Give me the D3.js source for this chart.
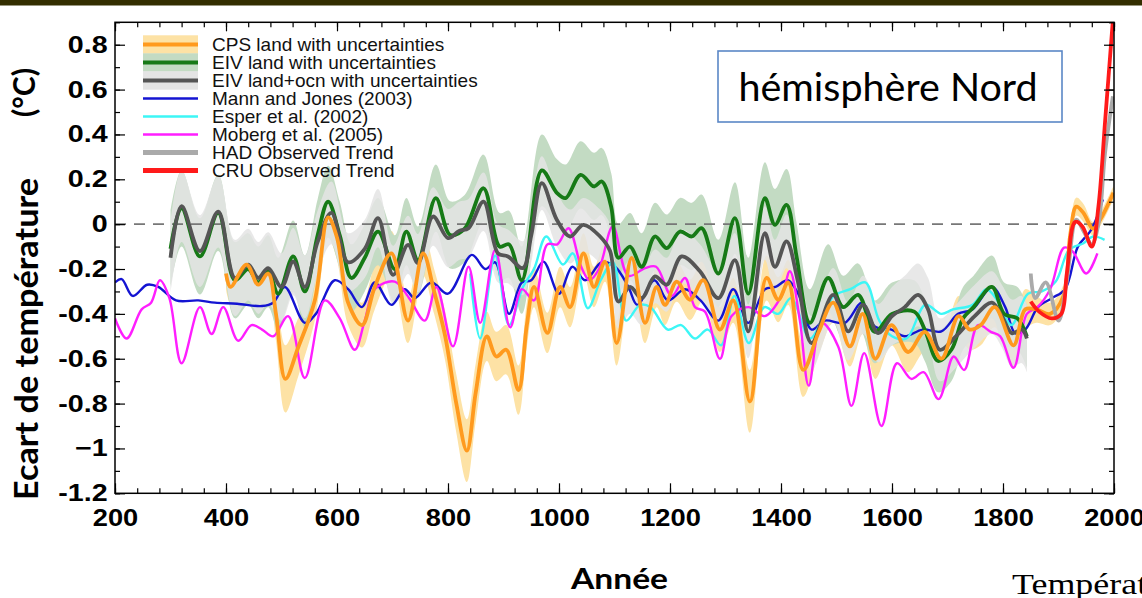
<!DOCTYPE html>
<html>
<head>
<meta charset="utf-8">
<script src="https://cdn.jsdelivr.net/npm/d3@7"></script>
<style>
  html, body { margin: 0; padding: 0; background: #fff; overflow: hidden; }
  svg { display: block; }
</style>
</head>
<body>
<div id="chart"></div>
<script>
// Reconstructions of northern hemisphere temperature anomaly (°C)
// rows: [year, value] or [year, value, uncertainty half-width]
const cpsLand = [
  [400,-0.22,0.07],[408,-0.28,0.07],[437,-0.18,0.07],[458,-0.27,0.07],[476,-0.22,0.08],
  [490,-0.40,0.12],[507,-0.69,0.15],[530,-0.55,0.13],[560,-0.34,0.09],[584,0.03,0.09],
  [600,-0.06,0.10],[620,-0.35,0.10],[645,-0.45,0.10],[668,-0.28,0.10],[698,-0.13,0.10],
  [728,-0.43,0.10],[755,-0.13,0.10],[775,-0.30,0.10],[795,-0.50,0.11],[815,-0.80,0.13],
  [834,-1.01,0.14],[850,-0.75,0.13],[870,-0.50,0.11],[887,-0.59,0.11],[905,-0.56,0.11],
  [927,-0.74,0.11],[942,-0.45,0.10],[955,-0.28,0.09],[979,-0.485,0.09],[1002,-0.28,0.09],
  [1020,-0.37,0.09],[1044,-0.13,0.09],[1063,-0.28,0.09],[1083,-0.167,0.09],[1104,-0.53,0.10],
  [1131,-0.15,0.09],[1155,-0.44,0.09],[1176,-0.28,0.09],[1191,-0.36,0.09],[1212,-0.256,0.09],
  [1236,-0.337,0.09],[1260,-0.25,0.09],[1290,-0.47,0.10],[1314,-0.34,0.10],[1344,-0.79,0.14],
  [1374,-0.24,0.10],[1395,-0.337,0.10],[1413,-0.26,0.10],[1440,-0.65,0.12],[1468,-0.48,0.10],
  [1494,-0.35,0.09],[1524,-0.545,0.09],[1547,-0.40,0.09],[1570,-0.60,0.09],[1599,-0.45,0.09],
  [1629,-0.57,0.09],[1659,-0.48,0.09],[1689,-0.60,0.09],[1720,-0.41,0.09],[1740,-0.47,0.09],
  [1760,-0.45,0.09],[1785,-0.37,0.09],[1819,-0.54,0.10],[1840,-0.38,0.09],[1860,-0.38,0.06],
  [1885,-0.40,0.05],[1909,-0.32,0.05],[1921,-0.05,0.04],[1932,0.078,0.04],[1945,0.05,0.04],
  [1962,-0.02,0.03],[1975,0.02,0.03],[1999,0.14,0.03]
];

const eivLand = [
  [300,-0.11,0.17],[320,0.07,0.17],[353,-0.144,0.17],[386,0.05,0.17],[416,-0.25,0.17],
  [440,-0.20,0.16],[458,-0.26,0.16],[476,-0.21,0.16],[494,-0.31,0.16],[521,-0.144,0.16],
  [542,-0.30,0.16],[565,-0.05,0.16],[584,0.10,0.16],[605,-0.05,0.15],[626,-0.24,0.15],
  [650,-0.15,0.15],[674,-0.033,0.15],[704,-0.20,0.15],[725,-0.033,0.15],[746,-0.16,0.15],
  [778,0.116,0.15],[804,-0.048,0.15],[830,-0.02,0.15],[864,0.16,0.15],[893,-0.10,0.15],
  [910,-0.09,0.15],[933,-0.25,0.15],[969,0.24,0.16],[996,0.14,0.15],[1012,0.116,0.15],
  [1039,0.22,0.15],[1063,0.168,0.15],[1077,0.19,0.15],[1094,0.078,0.15],[1107,-0.15,0.15],
  [1128,-0.10,0.15],[1149,-0.19,0.15],[1173,-0.055,0.15],[1194,-0.107,0.15],[1218,-0.033,0.15],
  [1239,-0.055,0.15],[1257,-0.018,0.15],[1287,-0.22,0.15],[1317,0.027,0.16],[1341,-0.31,0.16],
  [1371,0.116,0.16],[1389,-0.003,0.16],[1410,0.086,0.16],[1428,-0.144,0.15],[1452,-0.44,0.15],
  [1485,-0.24,0.15],[1512,-0.37,0.14],[1539,-0.315,0.14],[1569,-0.48,0.14],[1600,-0.40,0.14],
  [1640,-0.39,0.14],[1659,-0.47,0.14],[1683,-0.61,0.14],[1707,-0.56,0.14],[1728,-0.42,0.14],
  [1747,-0.37,0.14],[1780,-0.28,0.14],[1802,-0.40,0.14],[1826,-0.42,0.14],[1843,-0.50,0.14]
];

const eivLandOcn = [
  [300,-0.15,0.16],[320,0.08,0.16],[353,-0.12,0.16],[386,0.056,0.16],[416,-0.24,0.17],
  [440,-0.18,0.16],[458,-0.24,0.16],[476,-0.196,0.16],[500,-0.28,0.15],[521,-0.167,0.15],
  [542,-0.28,0.14],[565,-0.08,0.14],[590,0.05,0.14],[620,-0.17,0.13],[650,-0.11,0.13],
  [674,0.027,0.13],[701,-0.226,0.13],[728,-0.092,0.13],[746,-0.174,0.13],[773,0.034,0.13],
  [800,-0.062,0.13],[820,-0.03,0.13],[837,-0.018,0.13],[864,0.10,0.13],[890,-0.13,0.13],
  [908,-0.144,0.12],[935,-0.196,0.12],[950,-0.05,0.12],[969,0.183,0.12],[996,0.02,0.12],
  [1020,-0.055,0.12],[1044,-0.003,0.12],[1074,-0.055,0.12],[1092,-0.12,0.12],[1107,-0.345,0.12],
  [1128,-0.28,0.12],[1149,-0.33,0.12],[1173,-0.233,0.12],[1194,-0.27,0.12],[1221,-0.144,0.12],
  [1254,-0.21,0.12],[1287,-0.33,0.12],[1317,-0.16,0.12],[1341,-0.478,0.12],[1371,-0.04,0.12],
  [1389,-0.19,0.12],[1410,-0.077,0.12],[1430,-0.25,0.12],[1455,-0.53,0.12],[1494,-0.315,0.12],
  [1521,-0.478,0.13],[1548,-0.36,0.13],[1575,-0.486,0.13],[1600,-0.41,0.13],[1623,-0.37,0.14],
  [1647,-0.315,0.14],[1665,-0.38,0.14],[1686,-0.56,0.14],[1715,-0.50,0.14],[1749,-0.41,0.14],
  [1780,-0.35,0.14],[1798,-0.41,0.14],[1816,-0.486,0.15],[1834,-0.47,0.15],[1843,-0.51,0.15]
];

const mannJones = [
  [200,-0.26],[212,-0.245],[232,-0.32],[258,-0.27],[278,-0.28],[310,-0.34],[350,-0.34],
  [380,-0.35],[420,-0.355],[465,-0.365],[485,-0.35],[506,-0.28],[542,-0.44],[562,-0.40],
  [596,-0.25],[620,-0.29],[645,-0.37],[668,-0.26],[698,-0.36],[722,-0.29],[740,-0.33],
  [770,-0.26],[800,-0.31],[843,-0.137],[867,-0.20],[885,-0.17],[910,-0.40],[933,-0.26],
  [950,-0.25],[972,-0.167],[1000,-0.31],[1024,-0.19],[1047,-0.25],[1077,-0.17],[1101,-0.19],
  [1125,-0.28],[1141,-0.36],[1172,-0.25],[1196,-0.34],[1227,-0.29],[1255,-0.34],[1287,-0.43],
  [1314,-0.29],[1341,-0.44],[1371,-0.29],[1390,-0.28],[1412,-0.25],[1431,-0.31],[1455,-0.47],
  [1479,-0.43],[1515,-0.44],[1546,-0.35],[1569,-0.456],[1599,-0.47],[1623,-0.50],[1655,-0.47],
  [1689,-0.478],[1719,-0.40],[1745,-0.38],[1780,-0.28],[1804,-0.37],[1822,-0.486],[1840,-0.47],
  [1863,-0.37],[1888,-0.33],[1912,-0.29],[1935,-0.10],[1959,-0.025],[1980,0.11]
];

const esper = [
  [840,-0.22],[858,-0.51],[885,-0.14],[910,-0.45],[935,-0.28],[955,-0.20],[977,-0.055],
  [1007,-0.18],[1025,-0.13],[1052,-0.375],[1075,-0.25],[1097,-0.17],[1121,-0.43],[1146,-0.36],
  [1165,-0.37],[1196,-0.47],[1220,-0.45],[1245,-0.51],[1268,-0.47],[1292,-0.54],[1316,-0.32],
  [1342,-0.53],[1370,-0.37],[1395,-0.40],[1418,-0.33],[1452,-0.51],[1475,-0.42],[1495,-0.32],
  [1525,-0.29],[1552,-0.26],[1577,-0.43],[1600,-0.50],[1626,-0.51],[1660,-0.36],[1689,-0.40],
  [1710,-0.38],[1745,-0.36],[1770,-0.29],[1790,-0.34],[1815,-0.45],[1845,-0.31],[1870,-0.30],
  [1895,-0.256],[1919,-0.115],[1945,-0.085],[1962,-0.055],[1983,-0.07]
];

const moberg = [
  [200,-0.42],[221,-0.51],[248,-0.38],[265,-0.35],[281,-0.25],[298,-0.33],[320,-0.62],
  [353,-0.37],[374,-0.49],[395,-0.37],[422,-0.52],[446,-0.45],[465,-0.47],[485,-0.50],
  [512,-0.41],[542,-0.686],[578,-0.34],[605,-0.42],[632,-0.56],[650,-0.43],[668,-0.29],
  [704,-0.256],[730,-0.33],[758,-0.43],[779,-0.28],[809,-0.545],[837,-0.19],[858,-0.44],
  [885,-0.115],[912,-0.46],[933,-0.29],[955,-0.34],[979,-0.09],[997,-0.09],[1017,-0.018],
  [1040,-0.19],[1055,-0.25],[1072,-0.20],[1097,-0.01],[1125,-0.23],[1155,-0.196],[1175,-0.19],
  [1203,-0.32],[1227,-0.24],[1245,-0.37],[1263,-0.39],[1290,-0.60],[1311,-0.41],[1341,-0.37],
  [1371,-0.41],[1401,-0.32],[1416,-0.21],[1434,-0.43],[1450,-0.72],[1473,-0.44],[1503,-0.545],
  [1527,-0.81],[1550,-0.575],[1581,-0.90],[1609,-0.62],[1635,-0.69],[1657,-0.66],[1684,-0.78],
  [1711,-0.59],[1730,-0.65],[1755,-0.45],[1778,-0.48],[1795,-0.50],[1819,-0.64],[1843,-0.40],
  [1862,-0.37],[1885,-0.29],[1910,-0.105],[1925,-0.12],[1950,-0.22],[1970,-0.13]
];

const hadObserved = [
  [1850,-0.22],[1858,-0.33],[1877,-0.26],[1900,-0.43],[1915,-0.25],[1932,0.02],[1945,-0.03],
  [1960,-0.09],[1972,0.0],[1984,0.32],[1998,0.57]
];

const cruObserved = [
  [1850,-0.345],[1865,-0.39],[1888,-0.42],[1905,-0.40],[1915,-0.22],[1930,0.01],[1943,-0.01],
  [1960,-0.10],[1972,0.08],[1984,0.46],[1998,0.91]
];

const xTicks = [200, 400, 600, 800, 1000, 1200, 1400, 1600, 1800, 2000];
const xMinorTicks = d3.range(200, 2001, 40);
const yTicks = [-1.2, -1, -0.8, -0.6, -0.4, -0.2, 0, 0.2, 0.4, 0.6, 0.8];
const yTickLabels = ["-1.2", "\u22121", "-0.8", "-0.6", "-0.4", "-0.2", "0", "0.2", "0.4", "0.6", "0.8"];
const yMinorTicks = d3.range(-12, 10).map(d => d / 10);

const legendItems = [
  {label: "CPS land with uncertainties", color: "#ff9a1e", band: "#fde2a5", width: 4},
  {label: "EIV land with uncertainties", color: "#167a16", band: "#c3dbc3", width: 4},
  {label: "EIV land+ocn with uncertainties", color: "#555555", band: "#e4e4e4", width: 4},
  {label: "Mann and Jones (2003)", color: "#1414d2", width: 2.5},
  {label: "Esper et al. (2002)", color: "#3cf6f6", width: 2.5},
  {label: "Moberg et al. (2005)", color: "#ff1eff", width: 2.5},
  {label: "HAD Observed Trend", color: "#aaaaaa", width: 5},
  {label: "CRU Observed Trend", color: "#ff1a1a", width: 5}
];

const W = 1142, H = 598;
const svg = d3.select("#chart").append("svg")
  .attr("width", W)
  .attr("height", H);

// dark strip along the top of the slide
svg.append("rect")
  .attr("x", 0).attr("y", 0)
  .attr("width", W).attr("height", 5.5)
  .attr("fill", "#332e00");

const x = d3.scaleLinear().domain([200, 2000]).range([115, 1114]);
const y = d3.scaleLinear().domain([-1.2, 0.9]).range([493.3, 22.3]);

const curve = d3.curveCatmullRom.alpha(0.5);
const line = d3.line().x(d => x(d[0])).y(d => y(d[1])).curve(curve);
const band = d3.area()
  .x(d => x(d[0]))
  .y0(d => y(d[1] - d[2]))
  .y1(d => y(d[1] + d[2]))
  .curve(curve);

svg.append("clipPath").attr("id", "plotClip")
  .append("rect")
  .attr("x", x(200)).attr("y", y(0.9))
  .attr("width", x(2000) - x(200)).attr("height", y(-1.2) - y(0.9));

const plot = svg.append("g").attr("clip-path", "url(#plotClip)");

// uncertainty bands
plot.append("path").datum(cpsLand).attr("d", band).attr("fill", legendItems[0].band);
plot.append("path").datum(eivLand).attr("d", band).attr("fill", legendItems[1].band);
plot.append("path").datum(eivLandOcn).attr("d", band)
  .attr("fill", legendItems[2].band).attr("opacity", 0.85);

// zero reference
plot.append("line")
  .attr("x1", x(200)).attr("x2", x(2000))
  .attr("y1", y(0)).attr("y2", y(0))
  .attr("stroke", "#777")
  .attr("stroke-width", 1.6)
  .attr("stroke-dasharray", "11,8");

const series = [
  [mannJones, legendItems[3]],
  [esper, legendItems[4]],
  [moberg, legendItems[5]],
  [eivLand, legendItems[1]],
  [eivLandOcn, legendItems[2]],
  [cpsLand, legendItems[0]],
  [hadObserved, legendItems[6]],
  [cruObserved, legendItems[7]]
];

series.forEach(([data, item]) => {
  plot.append("path")
    .datum(data)
    .attr("d", line)
    .attr("fill", "none")
    .attr("stroke", item.color)
    .attr("stroke-width", item.width === 2.5 ? 2.4 : 3.8)
    .attr("stroke-linejoin", "round");
});

// axes: ticks point inwards on all four sides
const tickFont = g => g.selectAll("text")
  .attr("font-family", "'Liberation Sans', Arial, sans-serif")
  .attr("font-weight", "bold")
  .attr("font-size", 23.5)
  .attr("fill", "#000");

const axisStyle = g => {
  g.select(".domain").remove();
  g.selectAll(".tick line").attr("stroke", "#000").attr("stroke-width", 1.2);
};

svg.append("g").attr("transform", `translate(0,${y(-1.2)})`)
  .call(d3.axisBottom(x).tickValues(xMinorTicks).tickSize(-5).tickFormat(""))
  .call(axisStyle);
svg.append("g").attr("transform", `translate(0,${y(-1.2)})`)
  .call(d3.axisBottom(x).tickValues(xTicks).tickSize(-10).tickPadding(16).tickFormat(d3.format("d")))
  .call(axisStyle)
  .call(tickFont)
  .call(g => g.selectAll("text").attr("transform", "scale(1.16,1)"));

svg.append("g").attr("transform", `translate(0,${y(0.9)})`)
  .call(d3.axisTop(x).tickValues(xMinorTicks).tickSize(-5).tickFormat(""))
  .call(axisStyle);
svg.append("g").attr("transform", `translate(0,${y(0.9)})`)
  .call(d3.axisTop(x).tickValues(xTicks).tickSize(-9).tickFormat(""))
  .call(axisStyle);

svg.append("g").attr("transform", `translate(${x(200)},0)`)
  .call(d3.axisLeft(y).tickValues(yMinorTicks).tickSize(-5).tickFormat(""))
  .call(axisStyle);
svg.append("g").attr("transform", `translate(${x(200)},0)`)
  .call(d3.axisLeft(y).tickValues(yTicks).tickSize(-10).tickPadding(6)
    .tickFormat((d, i) => yTickLabels[i]))
  .call(axisStyle)
  .call(tickFont)
  .call(g => g.selectAll("text").attr("transform", "scale(1.22,1)"));

svg.append("g").attr("transform", `translate(${x(2000)},0)`)
  .call(d3.axisRight(y).tickValues(yMinorTicks).tickSize(-5).tickFormat(""))
  .call(axisStyle);
svg.append("g").attr("transform", `translate(${x(2000)},0)`)
  .call(d3.axisRight(y).tickValues(yTicks).tickSize(-10).tickFormat(""))
  .call(axisStyle);

svg.append("rect")
  .attr("x", x(200)).attr("y", y(0.9))
  .attr("width", x(2000) - x(200)).attr("height", y(-1.2) - y(0.9))
  .attr("fill", "none")
  .attr("stroke", "#000")
  .attr("stroke-width", 1.5);

// legend
const legend = svg.append("g").attr("transform", "translate(143,44.5)");
legendItems.forEach((item, i) => {
  const row = legend.append("g").attr("transform", `translate(0,${i * 18})`);
  if (item.band) {
    row.append("rect")
      .attr("x", 0).attr("y", -9.2)
      .attr("width", 55).attr("height", 18.4)
      .attr("fill", item.band);
  }
  row.append("line")
    .attr("x1", 0).attr("x2", 55)
    .attr("stroke", item.color)
    .attr("stroke-width", item.width);
  row.append("text")
    .attr("x", 69).attr("y", 6.5)
    .attr("font-family", "'Liberation Sans', Arial, sans-serif")
    .attr("font-size", 19)
    .attr("fill", "#111")
    .text(item.label);
});

// annotation box
svg.append("rect")
  .attr("x", 718).attr("y", 51)
  .attr("width", 344).attr("height", 71)
  .attr("fill", "#fff")
  .attr("stroke", "#5b87c6")
  .attr("stroke-width", 1.6);
svg.append("text")
  .attr("x", 888).attr("y", 101)
  .attr("text-anchor", "middle")
  .attr("font-family", "Lato, 'Open Sans', sans-serif")
  .attr("font-size", 38)
  .attr("textLength", 299)
  .attr("lengthAdjust", "spacingAndGlyphs")
  .text("hémisphère Nord");

// axis titles
svg.append("text")
  .attr("transform", "translate(38,339) rotate(-90)")
  .attr("text-anchor", "middle")
  .attr("font-family", "Lato, 'Open Sans', sans-serif")
  .attr("font-weight", "bold")
  .attr("font-size", 33)
  .attr("textLength", 322)
  .attr("lengthAdjust", "spacingAndGlyphs")
  .text("Ecart de température");
svg.append("text")
  .attr("transform", "translate(35,92.5) rotate(-90)")
  .attr("text-anchor", "middle")
  .attr("font-family", "Lato, 'Open Sans', sans-serif")
  .attr("font-weight", "bold")
  .attr("font-size", 30)
  .attr("textLength", 49)
  .attr("lengthAdjust", "spacingAndGlyphs")
  .text("(°C)");
svg.append("text")
  .attr("x", 619.5).attr("y", 589)
  .attr("text-anchor", "middle")
  .attr("font-family", "Lato, 'Open Sans', sans-serif")
  .attr("font-weight", "bold")
  .attr("font-size", 28)
  .attr("textLength", 97)
  .attr("lengthAdjust", "spacingAndGlyphs")
  .text("Année");

// caption of the next slide element, cut by the page edge
svg.append("text")
  .attr("transform", "translate(1012,594) scale(1.24,1)")
  .attr("font-family", "'Liberation Serif', 'Times New Roman', serif")
  .attr("font-size", 29)
  .attr("fill", "#000")
  .text("Température");
</script>
</body>
</html>
